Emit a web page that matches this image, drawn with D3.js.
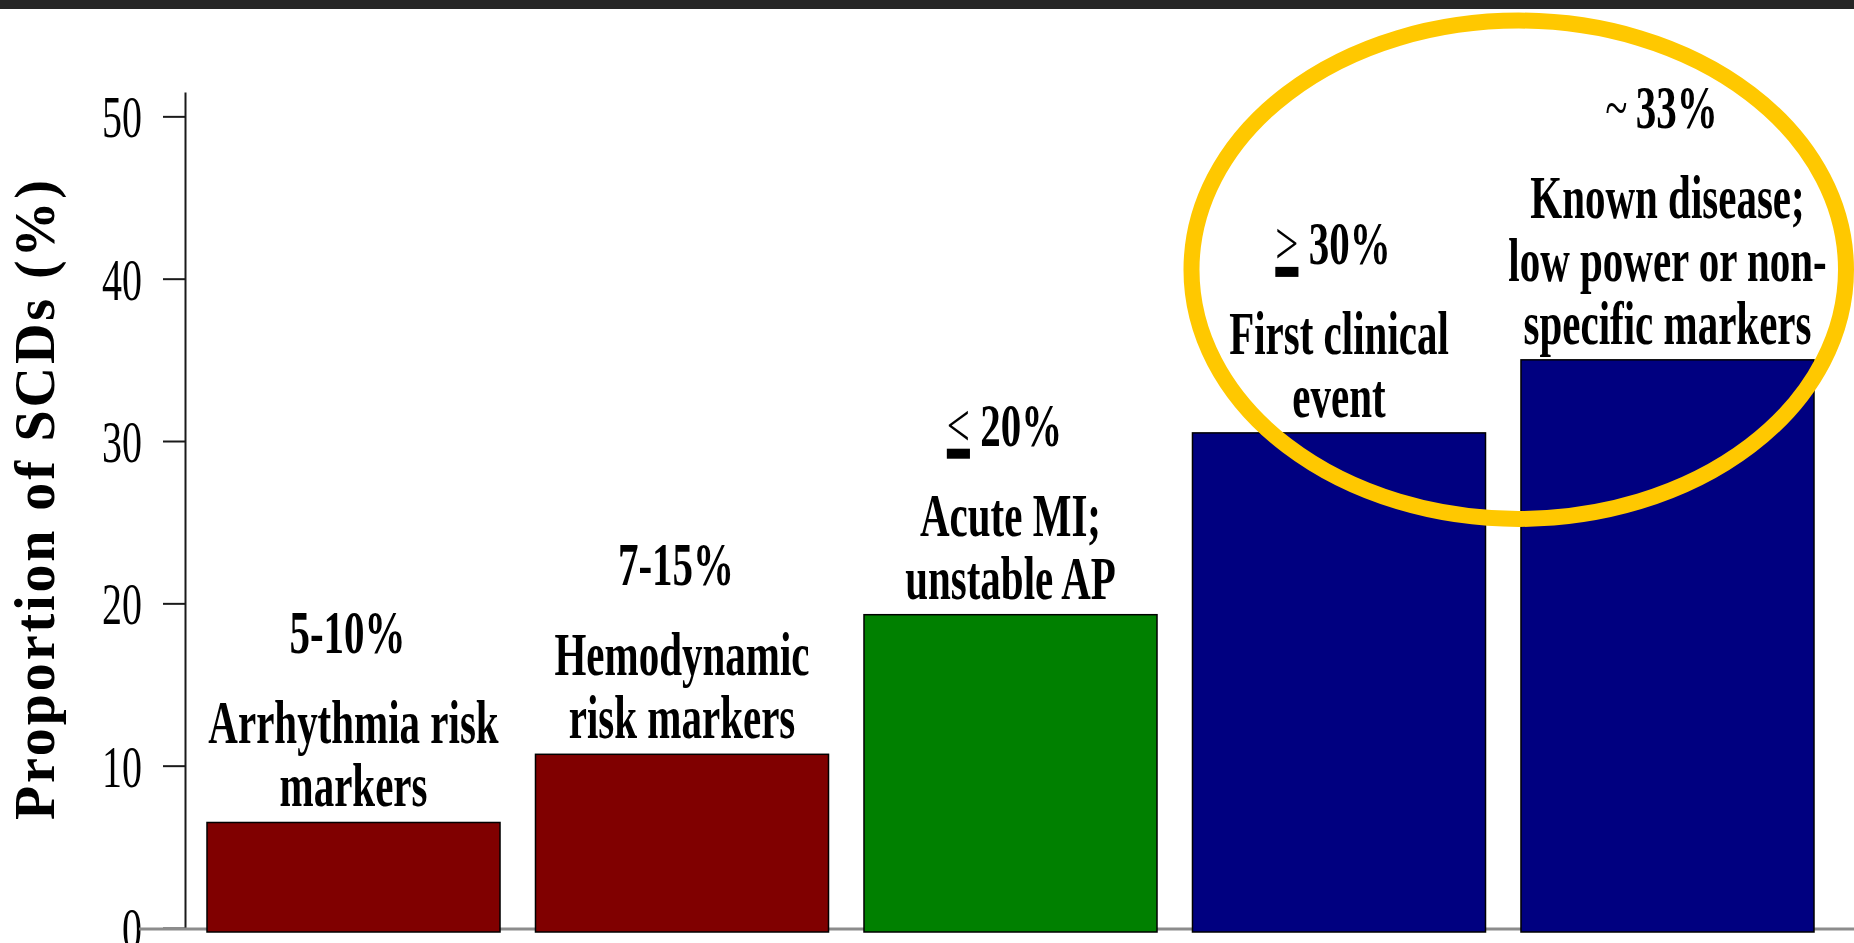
<!DOCTYPE html>
<html>
<head>
<meta charset="utf-8">
<script src="https://cdn.jsdelivr.net/npm/d3@7"></script>
<style>
  html, body { margin: 0; padding: 0; background: #fff; overflow: hidden; }
  svg { display: block; }
  text { font-family: "Liberation Serif", "Times New Roman", Times, serif; fill: #000; }
</style>
</head>
<body>
<svg id="chart" width="1854" height="943"></svg>
<script>
// ---- data ----
const categories = [
  "Arrhythmia risk markers",
  "Hemodynamic risk markers",
  "Acute MI; unstable AP",
  "First clinical event",
  "Known disease; low power or non-specific markers"
];
const values = [6.5, 10.7, 19.3, 30.5, 35];
const rangeLabels = ["5-10%", "7-15%", "≤20%", "≥30%", "~33%"];
const categoryLines = [
  ["Arrhythmia risk", "markers"],
  ["Hemodynamic", "risk markers"],
  ["Acute MI;", "unstable AP"],
  ["First clinical", "event"],
  ["Known disease;", "low power or non-", "specific markers"]
];
const barColors = ["#800000", "#800000", "#008000", "#000080", "#000080"];
const yTicks = [0, 10, 20, 30, 40, 50];
const yTitle = "Proportion of SCDs (%)";
const highlighted = [3, 4];          // bars circled by the yellow ring
const highlightSpan = [25.2, 55.9];  // vertical extent of the ring, in % units

// ---- layout ----
const W = 1854, H = 943;
const axisX = 185;
const TEXT_SY = 1.5;      // labels are drawn tall and narrow
const LINE_STEP = 63;

const svg = d3.select("#chart");
svg.append("rect").attr("width", W).attr("height", H).attr("fill", "#fff");
svg.append("rect").attr("width", W).attr("height", 9).attr("fill", "#262626");

const x = d3.scaleBand().domain(categories).range([207, 1814])
  .paddingInner(0.108).paddingOuter(0);
const y = d3.scaleLinear().domain([0, 51.5]).range([928, 92]);

// y axis
const yAxis = svg.append("g")
  .attr("transform", `translate(${axisX},0)`)
  .call(d3.axisLeft(y).tickValues(yTicks).tickSize(22).tickSizeOuter(0)
    .tickPadding(21).tickFormat(d3.format("d")));
yAxis.attr("font-family", null).attr("font-size", null);
yAxis.select(".domain").attr("stroke", "#1a1a1a").attr("stroke-width", 2);
yAxis.selectAll(".tick line").attr("stroke", "#1a1a1a").attr("stroke-width", 2);
yAxis.selectAll(".tick text")
  .attr("font-size", 40)
  .attr("fill", "#000")
  .attr("dy", "0.34em")
  .attr("transform", `scale(1,${TEXT_SY})`);

// y axis title
svg.append("text")
  .attr("transform", "translate(54,500) rotate(-90)")
  .attr("text-anchor", "middle")
  .attr("font-size", 56)
  .attr("font-weight", "bold")
  .attr("textLength", 640)
  .attr("lengthAdjust", "spacing")
  .text(yTitle);

// baseline
svg.append("line")
  .attr("x1", axisX - 46).attr("x2", W)
  .attr("y1", y(0) + 1).attr("y2", y(0) + 1)
  .attr("stroke", "#8c8c8c").attr("stroke-width", 3);

// bars
svg.selectAll("rect.bar")
  .data(categories)
  .join("rect")
  .attr("class", "bar")
  .attr("x", d => x(d))
  .attr("y", (d, i) => y(values[i]))
  .attr("width", x.bandwidth())
  .attr("height", (d, i) => y(0) - y(values[i]) + 4)
  .attr("fill", (d, i) => barColors[i])
  .attr("stroke", "#000")
  .attr("stroke-width", 1.5);

// labels above bars
const symbolGlyph = { "≤": "<", "≥": ">", "~": "~" };
categories.forEach((c, i) => {
  const cx = x(c) + x.bandwidth() / 2;
  const top = y(values[i]);
  const lines = categoryLines[i];
  const last = top - 16;
  const first = last - (lines.length - 1) * LINE_STEP;

  lines.forEach((ln, j) => {
    svg.append("g")
      .attr("transform", `translate(${cx},${first + j * LINE_STEP}) scale(1,${TEXT_SY})`)
      .append("text")
      .attr("text-anchor", "middle")
      .attr("font-size", 41)
      .attr("font-weight", "bold")
      .text(ln);
  });

  const lab = rangeLabels[i];
  const g = svg.append("g")
    .attr("transform", `translate(${cx - 6},${first - 90}) scale(1,${TEXT_SY})`);
  const t = g.append("text").attr("text-anchor", "middle").attr("font-size", 41);
  const sym = symbolGlyph[lab[0]];
  if (sym) {
    const underlined = lab[0] === "≤" || lab[0] === "≥";
    t.append("tspan").attr("font-weight", "normal").text(sym);
    t.append("tspan").attr("font-weight", "bold")
      .text((underlined ? "\u00A0" : "\u2009") + lab.slice(1));
    if (underlined) {
      const node = t.node();
      const x0 = node.getStartPositionOfChar(0).x;
      const x1 = node.getEndPositionOfChar(0).x;
      g.append("rect")
        .attr("x", x0).attr("y", 2)
        .attr("width", x1 - x0).attr("height", 10 / TEXT_SY)
        .attr("fill", "#000");
    }
  } else {
    t.attr("font-weight", "bold").text(lab);
  }
});

// yellow ring around the highlighted bars
const hx0 = x(categories[highlighted[0]]) - 1;
const hx1 = x(categories[highlighted[1]]) + x.bandwidth() + 32;
const hyTop = y(highlightSpan[1]);
const hyBot = y(highlightSpan[0]);
svg.append("ellipse")
  .attr("cx", (hx0 + hx1) / 2)
  .attr("cy", (hyTop + hyBot) / 2)
  .attr("rx", (hx1 - hx0) / 2)
  .attr("ry", (hyBot - hyTop) / 2)
  .attr("fill", "none")
  .attr("stroke", "#FFC800")
  .attr("stroke-width", 16);
</script>
</body>
</html>
